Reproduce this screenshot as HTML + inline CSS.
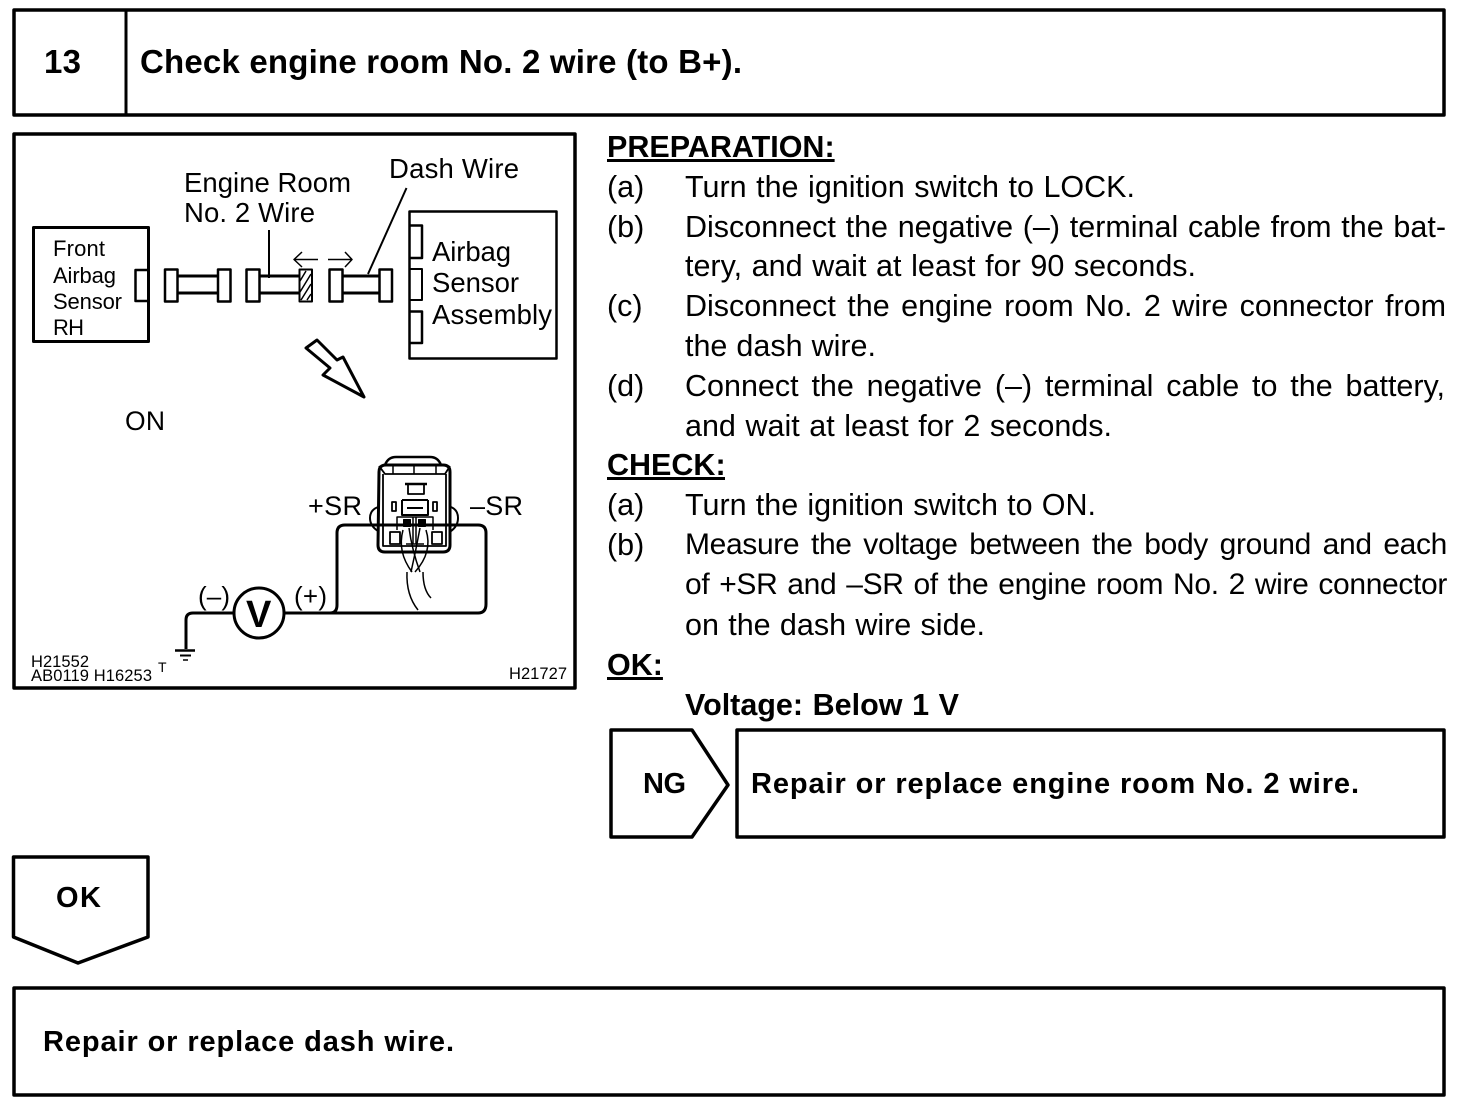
<!DOCTYPE html>
<html><head><meta charset="utf-8">
<style>
html,body{margin:0;padding:0;background:#fff;width:1472px;height:1108px;overflow:hidden}
svg{position:absolute;left:0;top:0}
text{font-family:"Liberation Sans",Arial,sans-serif;fill:#000}
.b{font-weight:bold}
.l{position:absolute;font:30.5px/40px "Liberation Sans",Arial,sans-serif;color:#000;text-align:justify;text-align-last:justify;height:40px;overflow:hidden}
.h{font-weight:bold;text-decoration:underline}
.v{font-weight:bold}
.t{font-size:30px;letter-spacing:-.35px}
</style></head><body>
<svg width="1472" height="1108" viewBox="0 0 1472 1108" fill="none" stroke="#000" stroke-linejoin="round">
<!-- frames -->
<rect x="14" y="10" width="1430" height="105" stroke-width="3.5"/>
<line x1="126" y1="10" x2="126" y2="115" stroke-width="3"/>
<rect x="14" y="134" width="561" height="554" stroke-width="3.5"/>
<polygon points="611,730 692,730 728,785 692,837 611,837" stroke-width="3.5"/>
<rect x="737" y="730" width="707" height="107" stroke-width="3.5"/>
<polygon points="13.500,857 148,857 148,937 78,963 13.500,937" stroke-width="3.500"/>
<rect x="14" y="988" width="1430" height="107" stroke-width="3.5"/>
<!-- left module -->
<rect x="33.500" y="227.500" width="115" height="114" stroke-width="3"/>
<polyline points="148,270 135.500,270 135.500,301 148,301" stroke-width="2.500"/>
<rect x="165" y="269.500" width="12.500" height="32" stroke-width="2.500"/>
<rect x="218" y="269.500" width="12.500" height="32" stroke-width="2.500"/>
<path d="M178 276H217M178 293H217" stroke-width="3"/>
<rect x="246.500" y="269.500" width="13" height="32" stroke-width="2.500"/>
<path d="M260 276H299M260 293H299" stroke-width="3"/>
<rect x="299.500" y="269.500" width="12.500" height="32" stroke-width="2"/>
<path d="M300 281L306 271M300 292L311 274M301 300L311 284M307 300L311 294" stroke-width="1.500"/>
<rect x="329.500" y="269.500" width="13" height="32" stroke-width="2.500"/>
<rect x="379.500" y="269.500" width="12.500" height="32" stroke-width="2.500"/>
<path d="M343 276H379M343 293H379" stroke-width="3"/>
<line x1="269" y1="230" x2="269" y2="278" stroke-width="2"/>
<line x1="406.500" y1="188" x2="368" y2="274" stroke-width="2"/>
<path d="M318 259.500H294M302 252L294 259.500L302 267" stroke-width="1.500"/>
<path d="M328 259.500H352M345 252L352 259.500L345 267" stroke-width="1.500"/>
<!-- assembly -->
<rect x="409.500" y="211.500" width="147" height="147" stroke-width="2.500"/>
<polyline points="410,225.500 422,225.500 422,258 410,258" stroke-width="2.500"/>
<polyline points="410,269 422,269 422,300 410,300" stroke-width="2"/>
<polyline points="410,311.500 422,311.500 422,343 410,343" stroke-width="2.500"/>
<!-- big arrow -->
<polygon points="306,348 317,340 337,360 343,357 364,397 323,375 330,368" stroke-width="3"/>
<!-- wiring -->
<path d="M285 613H330Q337 613 337 605V533Q337 525 345 525H478Q486 525 486 533V604Q486 613 478 613H330" stroke-width="3"/>
<circle cx="259" cy="613" r="25" stroke-width="3"/>
<path d="M234 613H193Q186 613 186 620V649" stroke-width="3"/>
<path d="M175 650.500H195" stroke-width="2.500"/>
<path d="M180 655.500H191" stroke-width="2"/>
<path d="M183 660H188" stroke-width="1.500"/>
<!-- connector -->
<g>
<path d="M385 465Q388 457 396 457H430Q438 457 441 465" stroke-width="2.500"/>
<path d="M378 507Q370 510 370 518Q370 526 378 531M451 507Q458 510 458 518Q458 526 451 531" stroke-width="2"/>
<path d="M379 472Q379 465 386 465H443Q450 465 450 472V545Q450 552 443 552H385Q378 552 378 545Z" stroke-width="3" fill="#fff"/>
<path d="M383 474V546H446V474M379 466L385 474H445L450 466" stroke-width="1.800"/>
<path d="M393 466V474M414 466V474M436 466V474" stroke-width="1.500"/>
<path d="M405 484H427" stroke-width="2.500"/>
<path d="M408 484V494H424V484M408 494H424" stroke-width="1.800"/>
<path d="M402 500V515H428V500M402 500H428M407 508H423" stroke-width="2"/>
<rect x="392" y="502" width="4" height="9" stroke-width="1.800"/>
<rect x="433" y="502" width="4" height="9" stroke-width="1.800"/>
<rect x="390" y="532" width="10" height="12" stroke-width="1.800"/>
<rect x="432" y="532" width="10" height="12" stroke-width="1.800"/>
<path d="M397 530V517H433V530" stroke-width="1.500"/>
<path d="M413 517V544M416 517V544M406 544H424" stroke-width="1.500"/>
<rect x="403.500" y="519.500" width="7" height="7" fill="#000" stroke-width="1"/>
<rect x="418.500" y="519.500" width="7" height="7" fill="#000" stroke-width="1"/>
<path d="M403 530Q397 552 412 572M409 528Q412 550 420 572" stroke-width="1.500"/>
<path d="M426 530Q433 552 415 572M420 528Q416 550 411 572" stroke-width="1.500"/>
<path d="M407 572Q406 595 418 610M423 572Q423 590 431 598" stroke-width="1.500"/>
</g>
<path d="M345 525H478" stroke-width="3"/>
<!-- labels -->
<g stroke="none">
<text x="44" y="73" font-size="33" class="b" textLength="37">13</text>
<text x="140" y="73" font-size="33" class="b" textLength="602">Check engine room No. 2 wire (to B+).</text>
<text x="643" y="793" font-size="29" class="b" textLength="43">NG</text>
<text x="751" y="793" font-size="29" class="b" textLength="608">Repair or replace engine room No. 2 wire.</text>
<text x="56" y="907" font-size="29" class="b" textLength="45">OK</text>
<text x="43" y="1051" font-size="29" class="b" textLength="411">Repair or replace dash wire.</text>
<text x="184" y="192" font-size="27.500" textLength="167">Engine Room</text>
<text x="184" y="222" font-size="27.500" textLength="131">No. 2 Wire</text>
<text x="389" y="178" font-size="27.500" textLength="130">Dash Wire</text>
<text x="53" y="256" font-size="22" textLength="52">Front</text>
<text x="53" y="283" font-size="22" textLength="63">Airbag</text>
<text x="53" y="309" font-size="22" textLength="69">Sensor</text>
<text x="53" y="335" font-size="22" textLength="31">RH</text>
<text x="432" y="261" font-size="27.500" textLength="79">Airbag</text>
<text x="432" y="292" font-size="27.500" textLength="87">Sensor</text>
<text x="432" y="324" font-size="27.500" textLength="120">Assembly</text>
<text x="125" y="430" font-size="26.500" textLength="40">ON</text>
<text x="308" y="515" font-size="27" textLength="54">+SR</text>
<text x="470" y="515" font-size="27" textLength="53">–SR</text>
<text x="198" y="605" font-size="26" textLength="32">(–)</text>
<text x="294" y="605" font-size="26" textLength="33">(+)</text>
<text x="246" y="627" font-size="38" class="b" textLength="27">V</text>
<text x="31" y="667" font-size="16.500" textLength="58">H21552</text>
<text x="31" y="681" font-size="16.500" textLength="121">AB0119 H16253</text>
<text x="158" y="672" font-size="14" textLength="9">T</text>
<text x="509" y="679" font-size="16.500" textLength="58">H21727</text>
</g>
</svg>
<div class="l h" style="left:607px;top:127px;width:229px">PREPARATION:</div>
<div class="l" style="left:607px;top:167px;width:36px">(a)</div>
<div class="l" style="left:685px;top:167px;width:450px">Turn the ignition switch to LOCK.</div>
<div class="l" style="left:607px;top:207px;width:36px">(b)</div>
<div class="l" style="left:685px;top:207px;width:761px">Disconnect the negative (–) terminal cable from the bat-</div>
<div class="l" style="left:685px;top:246px;width:511px">tery, and wait at least for 90 seconds.</div>
<div class="l" style="left:607px;top:286px;width:36px">(c)</div>
<div class="l" style="left:685px;top:286px;width:761px">Disconnect the engine room No. 2 wire connector from</div>
<div class="l" style="left:685px;top:326px;width:191px">the dash wire.</div>
<div class="l" style="left:607px;top:366px;width:36px">(d)</div>
<div class="l" style="left:685px;top:366px;width:760px">Connect the negative (–) terminal cable to the battery,</div>
<div class="l" style="left:685px;top:406px;width:427px">and wait at least for 2 seconds.</div>
<div class="l h" style="left:607px;top:445px;width:118px">CHECK:</div>
<div class="l" style="left:607px;top:485px;width:36px">(a)</div>
<div class="l" style="left:685px;top:485px;width:411px">Turn the ignition switch to ON.</div>
<div class="l" style="left:607px;top:525px;width:36px">(b)</div>
<div class="l t" style="left:685px;top:525px;width:762px">Measure the voltage between the body ground and each</div>
<div class="l t" style="left:685px;top:565px;width:762px">of +SR and –SR of the engine room No. 2 wire connector</div>
<div class="l" style="left:685px;top:605px;width:300px">on the dash wire side.</div>
<div class="l h" style="left:607px;top:645px;width:56px">OK:</div>
<div class="l v" style="left:685px;top:685px;width:274px">Voltage: Below 1 V</div>
</body></html>
